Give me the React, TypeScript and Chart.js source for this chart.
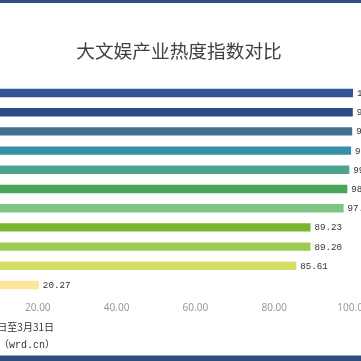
import React, { useEffect, useRef } from "react";
import { Chart, registerables } from "chart.js";

Chart.register(...registerables);

const titleText = "大文娱产业热度指数对比";
const noteLines = ["统计时间：2023年3月1日至3月31日", "数据来源：文娱指数（wrd.cn）"];
const categories = ["类别一", "类别二", "类别三", "类别四", "类别五", "类别六", "类别七", "类别八", "类别九", "类别十", "类别十一"];
const values = [100.0, 99.95, 99.8, 99.52, 99.07, 98.56, 97.61, 89.23, 89.2, 85.61, 20.27];
const barColors = [
  "#2F5597",
  "#2B4C87",
  "#41718E",
  "#3790AA",
  "#4BA390",
  "#4AA656",
  "#7EC584",
  "#7AB52F",
  "#9BCB50",
  "#D5DE65",
  "#FDE69A",
];
const xTicks = [0, 20, 40, 60, 80, 100];

const OFFSET = -100; // canvas left edge relative to viewport
const W = 560;
const H = 361;

const decorPlugin = {
  id: "decor",
  beforeDraw(chart: any) {
    const ctx = chart.ctx;
    ctx.save();
    ctx.fillStyle = "#ffffff";
    ctx.fillRect(0, 0, W, H);
    ctx.restore();
  },
  afterDraw(chart: any) {
    const ctx = chart.ctx;
    ctx.save();
    // top band
    ctx.fillStyle = "#2F4F80";
    ctx.fillRect(0, 0, W, 3);
    // bottom band
    ctx.fillStyle = "#9AAAC4";
    ctx.fillRect(0, 355, W, 1);
    ctx.fillStyle = "#2E4B7D";
    ctx.fillRect(0, 356, W, 5);
    // title
    ctx.fillStyle = "#404040";
    ctx.font = '18.7px "Noto Sans CJK SC"';
    ctx.textAlign = "center";
    ctx.textBaseline = "middle";
    ctx.fillText(titleText, 179 - OFFSET, 51);
    // notes
    ctx.fillStyle = "#333333";
    ctx.textAlign = "right";
    ctx.font = '10px "Noto Sans CJK SC"';
    ctx.fillText(noteLines[0], 54 - OFFSET, 327);
    ctx.font = '10px "Liberation Mono", "Noto Sans CJK SC"';
    ctx.fillText(noteLines[1], 55 - OFFSET, 345);
    ctx.restore();
  },
  afterDatasetsDraw(chart: any) {
    const ctx = chart.ctx;
    const meta = chart.getDatasetMeta(0);
    ctx.save();
    ctx.fillStyle = "#333333";
    ctx.font = '9.2px "Liberation Mono"';
    ctx.textAlign = "left";
    ctx.textBaseline = "middle";
    meta.data.forEach((bar: any, i: number) => {
      ctx.fillText(values[i].toFixed(2), bar.x + 4, bar.y + 0.5);
    });
    ctx.restore();
  },
};

export default function App() {
  const ref = useRef<HTMLCanvasElement | null>(null);
  useEffect(() => {
    if (!ref.current) return;
    const chart = new Chart(ref.current, {
      type: "bar",
      data: {
        labels: categories,
        datasets: [
          {
            data: values,
            backgroundColor: barColors,
            borderWidth: 0,
            categoryPercentage: 1,
            barPercentage: 0.44,
          },
        ],
      },
      options: {
        indexAxis: "y",
        animation: false,
        responsive: false,
        devicePixelRatio: 1,
        layout: { padding: { left: 59, right: 107, top: 83.4, bottom: 36.4 } },
        plugins: {
          legend: { display: false },
          title: { display: false },
          tooltip: { enabled: false },
        },
        scales: {
          y: { display: false },
          x: {
            min: 0,
            max: 100,
            afterFit(scale: any) {
              scale.height = 30;
            },
            afterBuildTicks(scale: any) {
              scale.ticks = xTicks.map((v) => ({ value: v }));
            },
            grid: { display: false, drawTicks: false },
            border: { display: false },
            ticks: {
              padding: 8,
              color: "#9A9A9A",
              font: { family: "Noto Sans", size: 10 },
              callback: (v: any) => Number(v).toFixed(2),
            },
          },
        },
      },
      plugins: [decorPlugin],
    });
    return () => chart.destroy();
  }, []);
  return (
    <div
      style={{
        position: "fixed",
        left: 0,
        top: 0,
        width: 361,
        height: 361,
        overflow: "hidden",
        background: "#fff",
      }}
    >
      <div style={{ position: "absolute", left: OFFSET, top: 0, width: W, height: H }}>
        <canvas ref={ref} width={W} height={H} />
      </div>
    </div>
  );
}
